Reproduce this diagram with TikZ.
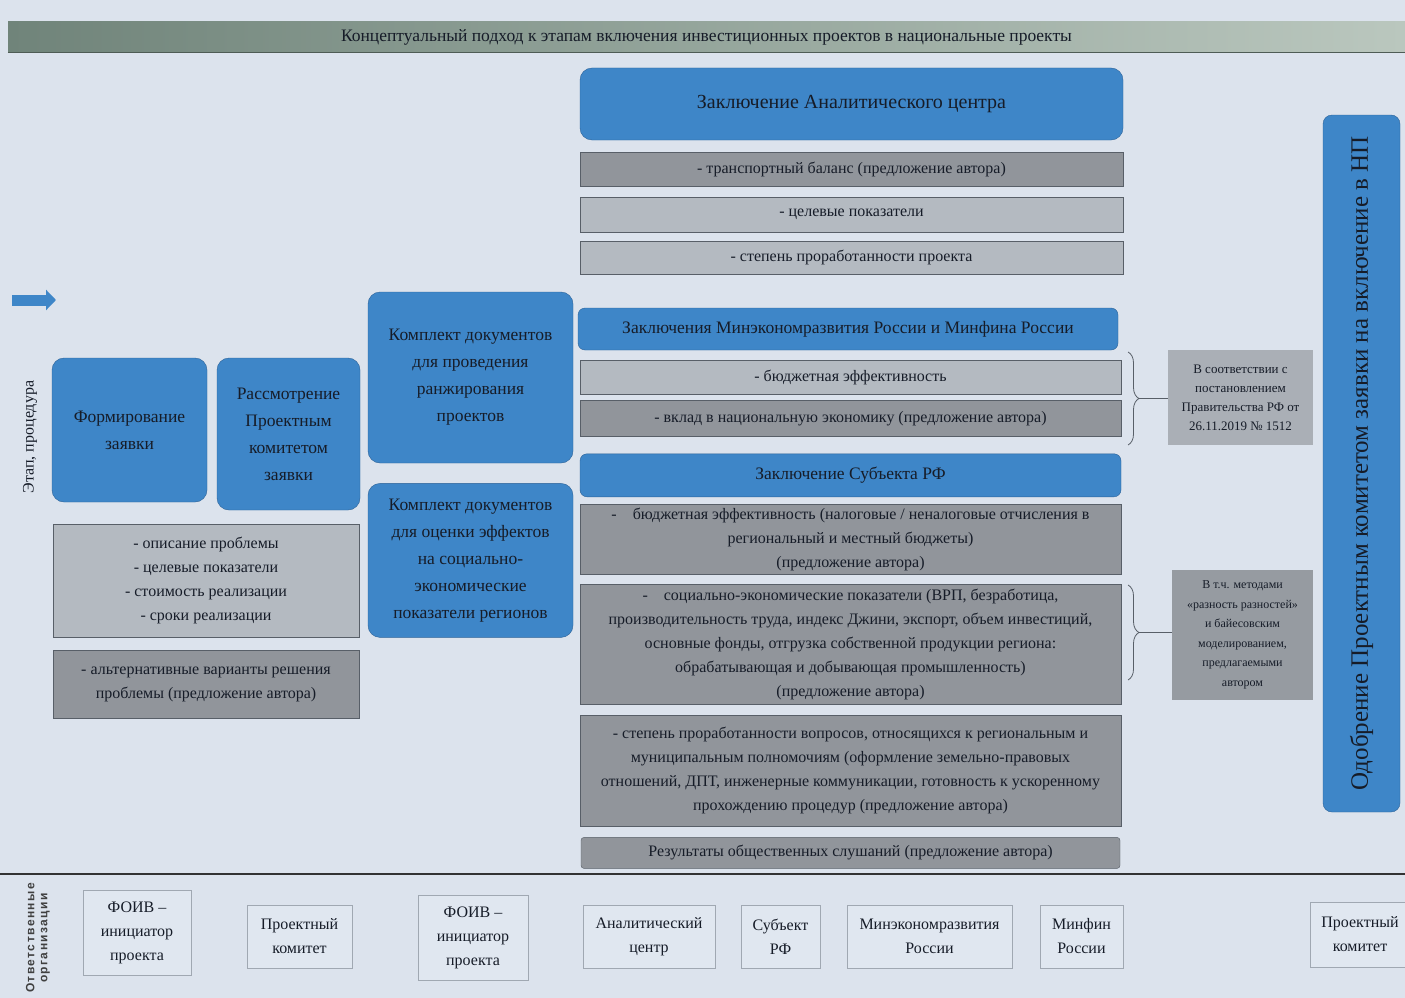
\documentclass[tikz,border=0pt]{standalone}
\usepackage{fontspec}
\setmainfont{Liberation Serif}
\setsansfont{Liberation Sans}
\usetikzlibrary{arrows.meta,positioning,decorations.pathreplacing}

\definecolor{pagebg}{RGB}{220,227,237}
\definecolor{stageblue}{RGB}{62,134,200}
\definecolor{stageedge}{RGB}{44,98,152}
\definecolor{lightgrey}{RGB}{180,186,193}
\definecolor{darkgrey}{RGB}{145,149,155}
\definecolor{greyedge}{RGB}{88,95,104}
\definecolor{inkblue}{RGB}{22,28,40}
\definecolor{barleft}{RGB}{112,132,122}
\definecolor{barright}{RGB}{186,199,190}
\definecolor{orgfill}{RGB}{224,231,240}
\definecolor{orgedge}{RGB}{160,168,178}

\begin{document}
\begin{tikzpicture}[
  x=1pt, y=-1pt,
  font=\fontsize{16}{24}\selectfont, text=inkblue,
  titlebar/.style={left color=barleft, right color=barright, minimum width=1397pt,
    minimum height=30pt, font=\fontsize{17.5}{18}\selectfont},
  stage/.style={draw=stageedge, fill=stageblue, rounded corners=12pt, align=center,
    font=\fontsize{17.5}{27}\selectfont},
  head/.style={draw=stageedge, fill=stageblue, rounded corners=7pt, align=center,
    minimum width=541pt, font=\fontsize{17.5}{22}\selectfont},
  item/.style={draw=greyedge, fill=lightgrey, align=center, minimum width=541pt,
    inner sep=1pt},
  itemdark/.style={item, fill=darkgrey},
  leftitem/.style={draw=greyedge, fill=lightgrey, align=center, minimum width=306pt},
  note/.style={fill=darkgrey!85!lightgrey, align=center, inner sep=1pt,
    font=\fontsize{13}{19}\selectfont},
  org/.style={draw=orgedge, fill=orgfill, align=center, minimum height=63pt,
    font=\fontsize{16}{24}\selectfont},
  side/.style={rotate=90, font=\fontsize{16}{18}\selectfont},
  brc/.style={decorate, decoration={brace, amplitude=11pt}, draw=greyedge, thick},
  conn/.style={draw=greyedge, thick},
  inarr/.style={-{Triangle[length=10pt,width=20pt]}, line width=11pt, stageblue}
]

\fill[pagebg] (0,0) rectangle (1405,998);
\useasboundingbox (0,0) rectangle (1405,998);

\node[titlebar] (title) at (706.5,37)
  {Концептуальный подход к этапам включения инвестиционных проектов в национальные проекты};
\draw[barleft!70!black, thick] (title.south west) -- (title.south east);

% stage row
\coordinate (in0) at (12,300);
\coordinate (in1) at (56,300);
\draw[inarr] (in0) -- (in1);
\node[side] (stagelbl) at (30,437) {Этап, процедура};

\node[stage, minimum width=155pt, minimum height=144pt] (form) at (129.5,430)
  {Формирование\\заявки};
\node[stage, minimum width=143pt, minimum height=152pt] (rass) at (288.5,434)
  {Рассмотрение\\Проектным\\комитетом\\заявки};
\node[leftitem, minimum height=113pt] (opis) at (206,580.5)
  {- описание проблемы\\- целевые показатели\\- стоимость реализации\\- сроки реализации};
\node[leftitem, fill=darkgrey, minimum height=68pt, below=13pt of opis] (alt)
  {- альтернативные варианты решения\\проблемы (предложение автора)};

\node[stage, minimum width=205pt, minimum height=171pt] (rank) at (470.5,377.5)
  {Комплект документов\\для проведения\\ранжирования\\проектов};
\node[stage, minimum width=205pt, minimum height=154pt, below=20pt of rank] (eff)
  {Комплект документов\\для оценки эффектов\\на социально-\\экономические\\показатели регионов};

% conclusions column
\node[head, minimum width=543pt, minimum height=72pt, rounded corners=12pt,
  font=\fontsize{20}{24}\selectfont] (anc) at (851.5,104) {Заключение Аналитического центра};
\node[itemdark, minimum width=543pt, minimum height=34pt, below=12pt of anc] (tb)
  {- транспортный баланс (предложение автора)};
\node[item, minimum width=543pt, minimum height=35pt, below=10pt of tb] (tp)
  {- целевые показатели};
\node[item, minimum width=543pt, minimum height=33pt, below=9pt of tp] (st)
  {- степень проработанности проекта};

\node[head, minimum width=540pt, minimum height=42pt] (mer) at (848,329)
  {Заключения Минэкономразвития России и Минфина России};
\node[item, minimum height=34pt] (be) at (850.5,377) {- бюджетная эффективность};
\node[itemdark, minimum height=36pt, below=6pt of be] (vn)
  {- вклад в национальную экономику (предложение автора)};

\node[head, minimum height=43pt, below=17pt of vn] (sub) {Заключение Субъекта РФ};
\node[itemdark, minimum height=70pt, below=7pt of sub] (bef)
  {-\quad бюджетная эффективность (налоговые / неналоговые отчисления в\\
   региональный и местный бюджеты)\\(предложение автора)};
\node[itemdark, minimum height=120pt, below=10pt of bef] (soc)
  {-\quad социально-экономические показатели (ВРП, безработица,\\
   производительность труда, индекс Джини, экспорт, объем инвестиций,\\
   основные фонды, отгрузка собственной продукции региона:\\
   обрабатывающая и добывающая промышленность)\\(предложение автора)};
\node[itemdark, minimum height=111pt, below=10pt of soc] (stp)
  {- степень проработанности вопросов, относящихся к региональным и\\
   муниципальным полномочиям (оформление земельно-правовых\\
   отношений, ДПТ, инженерные коммуникации, готовность к ускоренному\\
   прохождению процедур (предложение автора)};
\node[itemdark, rounded corners=3pt, minimum width=539pt, minimum height=31pt,
  below=11pt of stp] (res) {Результаты общественных слушаний (предложение автора)};

% side notes with braces
\node[note, fill=lightgrey!70!darkgrey, minimum width=145pt, minimum height=95pt] (post)
  at (1240.5,397.5) {В соответствии с\\постановлением\\Правительства РФ от\\26.11.2019 № 1512};
\node[note, font=\fontsize{12}{19.5}\selectfont, minimum width=141pt, minimum height=130pt]
  (dd) at (1242.5,635)
  {В т.ч. методами\\«разность разностей»\\и байесовским\\моделированием,\\предлагаемыми\\автором};

\draw[brc] (1128,352) -- (1128,445);
\coordinate (b1) at (1139,398.5);
\draw[conn] (b1) -- (b1 -| post.west);
\draw[brc] (1128,585) -- (1128,680);
\coordinate (b2) at (1139,632.5);
\draw[conn] (b2) -- (b2 -| dd.west);

\node[stage, rotate=90, rounded corners=9pt, minimum width=697pt, minimum height=77pt,
  font=\fontsize{25}{28}\selectfont] (appr) at (1361.5,463.5)
  {Одобрение Проектным комитетом заявки на включение в НП};

% responsible organisations
\draw[line width=2pt, black!80] (0,874) -- (1405,874);
\node[rotate=90, align=center, text=black!75,
  font=\sffamily\bfseries\fontsize{12}{13}\selectfont\addfontfeature{LetterSpace=12}] (orglbl)
  at (38,938) {Ответственные\\организации};

\node[org, minimum width=108pt, minimum height=85pt] (o1) at (137,932.5) {ФОИВ –\\инициатор\\проекта};
\node[org, minimum width=105pt] (o2) at (299.5,936.5) {Проектный\\комитет};
\node[org, minimum width=110pt, minimum height=85pt] (o3) at (473,937.5) {ФОИВ –\\инициатор\\проекта};
\node[org, minimum width=132pt] (o4) at (649,936.5) {Аналитический\\центр};
\node[org, minimum width=79pt] (o5) at (780.5,936.5) {Субъект\\РФ};
\node[org, minimum width=165pt] (o6) at (929.5,936.5) {Минэкономразвития\\России};
\node[org, minimum width=83pt] (o7) at (1081.5,936.5) {Минфин\\России};
\node[org, minimum width=100pt, minimum height=65pt] (o8) at (1360,934.5) {Проектный\\комитет};

\end{tikzpicture}
\end{document}
